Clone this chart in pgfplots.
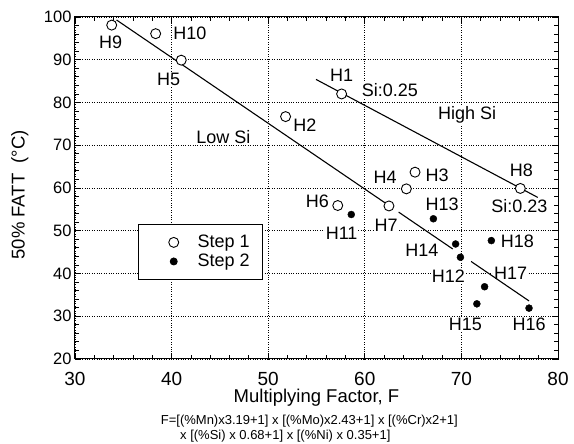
\documentclass[border=0pt]{standalone}
\usepackage{fontspec}
\setmainfont{Liberation Sans}
\usepackage{pgfplots}
\pgfplotsset{compat=1.18}
\tikzset{lab/.style={font=\fontsize{18}{18}\selectfont, fill=white, inner sep=0.8pt, anchor=center}}
\begin{document}
\begin{tikzpicture}
\begin{axis}[
  scale only axis, width=483pt, height=342pt,
  xmin=30, xmax=80, ymin=20, ymax=100,
  xtick={30,40,...,80}, ytick={20,30,...,100},
  minor x tick num=4, minor y tick num=4,
  tick align=inside,
  major tick length=6pt, minor tick length=4pt,
  grid=major, grid style={black, dotted, line width=0.7pt},
  axis line style={line width=1pt},
  every tick/.style={black, line width=0.8pt},
  yticklabel style={font=\fontsize{16.5}{16.5}\selectfont},
  xticklabel style={font=\fontsize{19}{19}\selectfont, anchor=base, yshift=-27pt},
  /pgf/number format/assume math mode=true,
  xlabel={Multiplying Factor, F},
  ylabel={50\% FATT\ \ (°C)},
  label style={font=\fontsize{18.5}{18.5}\selectfont},
  xlabel style={at={(axis description cs:0.5,0)}, anchor=base, yshift=-44pt},
  ylabel style={at={(axis description cs:-0.114,0.48)}, anchor=center},
  legend style={at={(axis cs:36.5,51.6)}, anchor=north west, draw=black, line width=0.9pt,
    font=\fontsize{18}{18}\selectfont, nodes={font=\fontsize{18}{18}\selectfont},
    inner xsep=4pt, inner ysep=9pt, row sep=1pt,
    /tikz/every even column/.append style={column sep=0pt}},
  legend cell align=left,
  legend image code/.code={\path[draw=none] (0pt,0pt) -- (53.4pt,0pt); \draw[#1] plot coordinates {(31.5pt,0pt)};},
]
% labels (white background cuts the grid)
\node[lab] at (axis cs:33.7,94.0) {H9};
\node[lab] at (axis cs:41.9,96.2) {H10};
\node[lab] at (axis cs:39.7,85.3) {H5};
\node[lab] at (axis cs:53.8,74.6) {H2};
\node[lab] at (axis cs:45.35,72.0) {Low Si};
\node[lab] at (axis cs:57.6,86.3) {H1};
\node[lab] at (axis cs:62.6,82.9) {Si:0.25};
\node[lab] at (axis cs:70.6,77.2) {High Si};
\node[lab] at (axis cs:76.2,64.2) {H8};
\node[lab] at (axis cs:76.0,55.8) {Si:0.23};
\node[lab] at (axis cs:62.1,62.6) {H4};
\node[lab] at (axis cs:67.5,63.0) {H3};
\node[lab] at (axis cs:55.1,57.0) {H6};
\node[lab] at (axis cs:62.2,51.2) {H7};
\node[lab] at (axis cs:57.6,49.5) {H11};
\node[lab] at (axis cs:68.0,56.3) {H13};
\node[lab] at (axis cs:65.9,45.5) {H14};
\node[lab] at (axis cs:75.8,47.6) {H18};
\node[lab] at (axis cs:68.65,39.25) {H12};
\node[lab] at (axis cs:75.1,40.0) {H17};
\node[lab] at (axis cs:70.4,28.0) {H15};
\node[lab] at (axis cs:77.0,28.0) {H16};
% fit lines
\addplot[black, line width=1.1pt, forget plot] coordinates {(34.3,99.3) (62.5,55.9)};
\addplot[black, line width=1.1pt, forget plot] coordinates {(63.5,54.36) (69.1,45.74)};
\addplot[black, line width=1.1pt, forget plot] coordinates {(71.0,42.82) (77.0,33.58)};
\addplot[black, line width=1.1pt, forget plot] coordinates {(54.95,85.4) (77.9,57.8)};
% data
\addplot[only marks, mark=*, mark size=5pt, mark options={fill=white, draw=black, line width=0.9pt}]
  coordinates {(33.8,98.1) (38.35,96.1) (41.0,89.9) (51.8,76.7) (57.6,82.0) (76.1,59.9)
               (65.2,63.7) (64.3,59.8) (57.2,55.9) (62.5,55.8)};
\addlegendentry{\makebox[59pt][l]{Step 1}}
\addplot[only marks, mark=*, mark size=3.5pt, mark options={fill=black, draw=black}]
  coordinates {(58.6,53.8) (67.1,52.8) (73.1,47.7) (69.4,46.9) (69.9,43.8) (72.4,36.9)
               (71.6,32.9) (77.0,31.9)};
\addlegendentry{\makebox[59pt][l]{Step 2}}
\end{axis}
\node[font=\fontsize{13}{13}\selectfont, anchor=base west, inner sep=0pt] at ([xshift=85.7pt,yshift=-66pt]current axis.south west)
  {F=[(\%Mn)x3.19+1] x [(\%Mo)x2.43+1] x [(\%Cr)x2+1]};
\node[font=\fontsize{13}{13}\selectfont, anchor=base west, inner sep=0pt] at ([xshift=105pt,yshift=-81pt]current axis.south west)
  {x [(\%Si) x 0.68+1] x [(\%Ni) x 0.35+1]};
\path ([xshift=-75pt,yshift=-85pt]current axis.south west) rectangle ([xshift=16pt,yshift=17pt]current axis.north east);
\end{tikzpicture}
\end{document}
